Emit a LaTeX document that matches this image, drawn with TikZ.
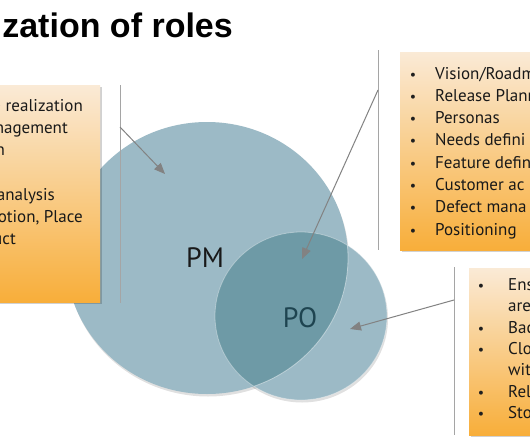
\documentclass[tikz,border=0pt]{standalone}
\usepackage{fontspec}
\setmainfont{PT Sans}
\newfontfamily\titlefont{Liberation Sans}
\usetikzlibrary{arrows.meta,shapes.geometric}
\definecolor{boxtop}{RGB}{250,234,214}
\definecolor{boxbot}{RGB}{248,174,58}
\definecolor{pmcol}{RGB}{156,186,198}
\definecolor{ovcol}{RGB}{110,154,166}
\definecolor{potext}{RGB}{30,68,80}
\definecolor{arrowgray}{RGB}{130,130,130}
\definecolor{linegray}{RGB}{165,165,165}
\tikzset{
  obox/.style={rectangle, draw=none, inner sep=0pt, top color=boxtop, bottom color=boxbot},
  oshadow/.style={rectangle, draw=none, inner sep=0pt, fill=black, opacity=0.18},
  txt/.style={font=\fontsize{17}{19}\selectfont, inner sep=0pt, text=black!90},
  bul/.style={font=\fontsize{14}{19}\selectfont, inner sep=0pt, text=black!88, anchor=base},
  vline/.style={draw=linegray, line width=1pt},
  conn/.style={draw=arrowgray, line width=1pt, -{Triangle[length=11pt,width=9pt]}},
}
\def\pmpath{(207,258) ellipse (141 and 136)}
\def\popath{(301,316) ellipse (86 and 84)}
\begin{document}
\begin{tikzpicture}[x=1pt,y=-1pt]
\useasboundingbox (0,0) rectangle (530,442);
\clip (0,0) rectangle (530,442);
\fill[white] (0,0) rectangle (530,442);
% title
\node[font=\titlefont\bfseries\fontsize{34}{40}\selectfont, anchor=base east, inner sep=0pt] (title) at (233,37) {zation of roles};
% blob shadows
\fill[black, opacity=0.12] (208,260.5) ellipse (141 and 136);
\fill[black, opacity=0.12] (302,318.5) ellipse (86 and 84);
% PM blob
\fill[pmcol] \pmpath;
% PO ellipse
\fill[pmcol] \popath;
\begin{scope}
  \clip \pmpath;
  \fill[ovcol] \popath;
\end{scope}
\begin{scope}
  \clip \popath;
  \draw[white, opacity=0.45, line width=0.8pt] \pmpath;
\end{scope}
\draw[white, opacity=0.35, line width=0.8pt] \popath;
% labels in blobs
\node[font=\fontsize{28}{30}\selectfont, inner sep=0pt, text=black!90] (pmlabel) at (205,258) {PM};
\node[font=\fontsize{28}{30}\selectfont, inner sep=0pt, text=potext] (polabel) at (300,318) {PO};
% vertical lines
\coordinate (v1top) at (120,85);  \coordinate (v1bot) at (120,303);
\coordinate (v2top) at (378,50);  \coordinate (v2bot) at (378,250);
\coordinate (v3top) at (454,267); \coordinate (v3bot) at (454,435);
\draw[vline] (v1top) -- (v1bot);
\draw[vline] (v2top) -- (v2bot);
\draw[vline] (v3top) -- (v3bot);
% arrows
\coordinate (a1s) at (120,127); \coordinate (a1e) at (165,174);
\coordinate (a2s) at (378,90);  \coordinate (a2e) at (302,259);
\coordinate (a3s) at (454,300); \coordinate (a3e) at (350,329);
\draw[conn] (a1s) -- (a1e);
\draw[conn] (a2s) -- (a2e);
\draw[conn] (a3s) -- (a3e);
% boxes with shadows
\node[oshadow, minimum width=110pt, minimum height=217pt] (lboxsh) at (46.5,195.5) {};
\node[obox, minimum width=110pt, minimum height=217pt] (lbox) at (45,193.5) {};
\node[oshadow, minimum width=145pt, minimum height=198pt] (rtboxsh) at (474,153) {};
\node[obox, minimum width=145pt, minimum height=198pt] (rtbox) at (472.5,151) {};
\node[oshadow, minimum width=76pt, minimum height=167pt] (rbboxsh) at (508.5,353.5) {};
\node[obox, minimum width=76pt, minimum height=167pt] (rbbox) at (507,351.5) {};
% left box text
\node[txt, anchor=base east] (l1) at (83,111) {e realization};
\node[txt, anchor=base east] (l2) at (68,133) {nagement};
\node[txt, anchor=base east] (l3) at (5,155) {n};
\node[txt, anchor=base east] (l4) at (55,200) {analysis};
\node[txt, anchor=base east] (l5) at (83,222) {otion, Place};
\node[txt, anchor=base east] (l6) at (16,244) {uct};
% right top box text
\foreach \yy/\tt [count=\i] in {79/{Vision/Roadm}, 101.3/{Release Plann}, 123.6/{Personas}, 145.9/{Needs defini}, 168.2/{Feature defin}, 190.5/{Customer ac}, 212.8/{Defect mana}, 235.1/{Positioning}}{
  \node[bul] (rb\i) at (413,\yy) {\textbullet};
  \node[txt, anchor=base west] (rt\i) at (435,\yy) {\tt};
}
% right bottom box text
\foreach \yy/\tt [count=\i] in {290/Ens, 311/are, 333/Bac, 354/Clo, 375/wit, 397/Rel, 418/Sto}{
  \node[txt, anchor=base west] (bt\i) at (508,\yy) {\tt};
}
\foreach \yy [count=\i] in {290, 333, 354, 397, 418}{
  \node[bul] (bb\i) at (481,\yy) {\textbullet};
}
\end{tikzpicture}
\end{document}
